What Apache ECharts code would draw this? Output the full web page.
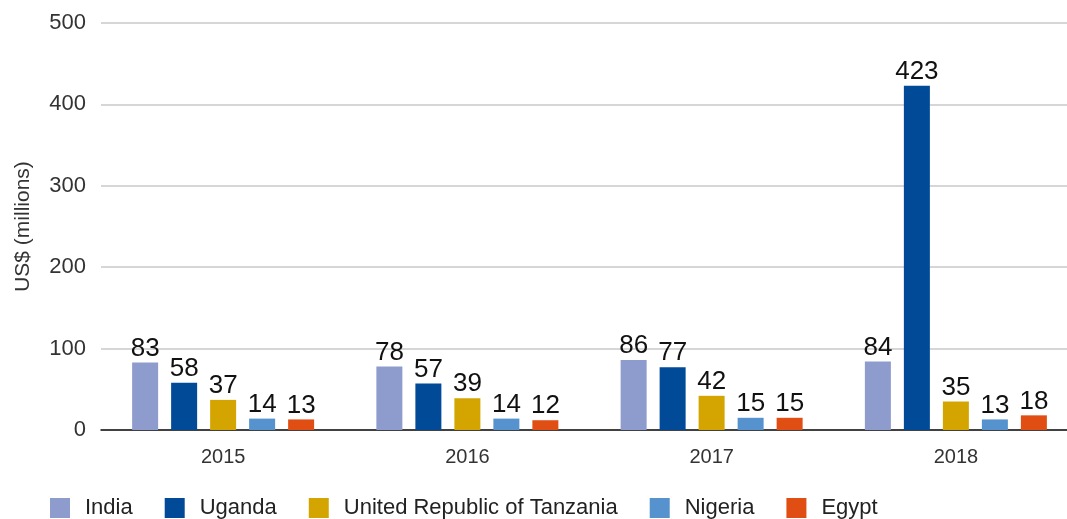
<!DOCTYPE html>
<html>
<head>
<meta charset="utf-8">
<script src="https://cdn.jsdelivr.net/npm/echarts@6/dist/echarts.min.js"></script>
<style>
  html, body { margin: 0; padding: 0; background: #fff; }
  #chart { width: 1067px; height: 519px; }
</style>
</head>
<body>
<div id="chart"></div>
<script>
const years = ['2015', '2016', '2017', '2018'];
const countries = ['India', 'Uganda', 'United Republic of Tanzania', 'Nigeria', 'Egypt'];
const india = [83, 78, 86, 84];
const uganda = [58, 57, 77, 423];
const tanzania = [37, 39, 42, 35];
const nigeria = [14, 14, 15, 13];
const egypt = [13, 12, 15, 18];
const colors = ['#8e9bcd', '#004a98', '#d4a500', '#5592ce', '#e04e14'];

const seriesValues = [india, uganda, tanzania, nigeria, egypt];
const fontFamily = '"Helvetica Neue", "Liberation Sans", Arial, sans-serif';

const chart = echarts.init(document.getElementById('chart'), null, { renderer: 'canvas' });
chart.setOption({
  animation: false,
  textStyle: { fontFamily: fontFamily },
  // the plot runs a little past the right edge of the canvas
  grid: { left: 101, top: 23, width: 977, height: 407, containLabel: false, outerBoundsMode: 'none' },
  legend: {
    left: 50,
    top: 497,
    padding: 0,
    itemWidth: 20,
    itemHeight: 20,
    itemGap: 32,
    icon: 'rect',
    textStyle: { fontSize: 22, color: '#222', padding: [0, 0, 0, 10], fontFamily: fontFamily },
    data: countries
  },
  xAxis: {
    type: 'category',
    data: years,
    axisLine: { lineStyle: { color: '#111', width: 1.5 } },
    axisTick: { show: false },
    axisLabel: { fontSize: 20, color: '#333', margin: 17 }
  },
  yAxis: {
    type: 'value',
    min: 0,
    max: 500,
    interval: 100,
    name: 'US$ (millions)',
    nameLocation: 'middle',
    nameGap: 67,
    nameTextStyle: { fontSize: 21, color: '#333' },
    axisLine: { show: false },
    axisTick: { show: false },
    axisLabel: { fontSize: 22, color: '#333', margin: 15 },
    splitLine: { lineStyle: { color: '#c8c8c8', width: 1.5 } }
  },
  series: countries.map((name, i) => ({
    name: name,
    type: 'bar',
    data: seriesValues[i],
    itemStyle: { color: colors[i] },
    barWidth: 26,
    barGap: '50%',
    label: {
      show: true,
      position: 'top',
      distance: 1,
      fontSize: 26,
      color: '#111',
      fontFamily: fontFamily
    }
  }))
});
</script>
</body>
</html>
